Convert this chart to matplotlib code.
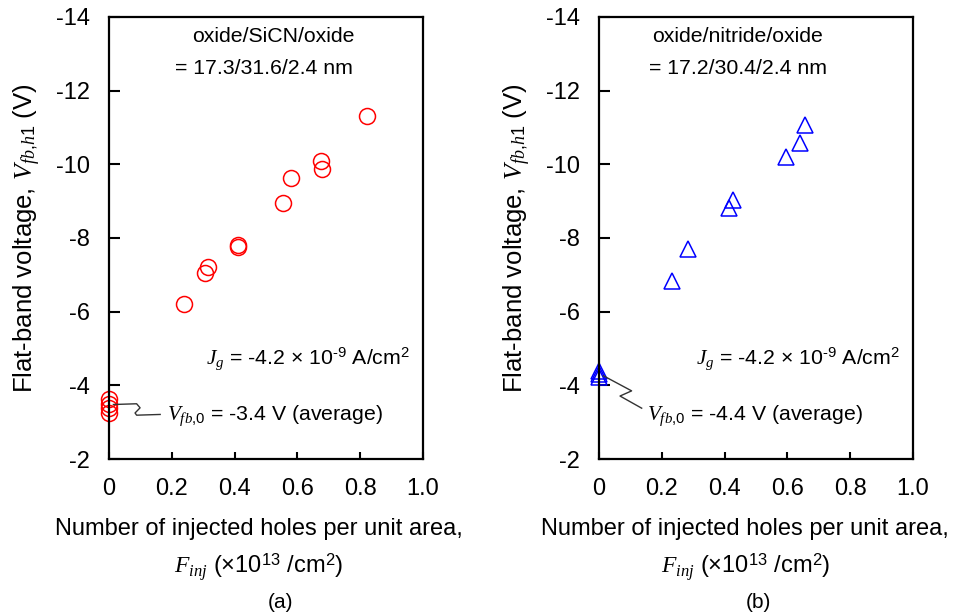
import numpy as np
import matplotlib
matplotlib.use("Agg")
import matplotlib.pyplot as plt

# --------------------- fonts ---------------------
plt.rcParams['font.family'] = ['Liberation Sans', 'DejaVu Sans']
plt.rcParams['mathtext.fontset'] = 'custom'
plt.rcParams['mathtext.rm'] = 'Liberation Sans'
plt.rcParams['mathtext.it'] = 'Liberation Serif:italic'
plt.rcParams['mathtext.bf'] = 'Liberation Sans:bold'
plt.rcParams['axes.unicode_minus'] = False
f_size = 17     # ticks, x label
f_ylab = 18.5   # y label
f_note = 15.3   # annotations inside the axes

# --------------------- data ---------------------
# (a) oxide/SiCN/oxide
x_sicn = [0, 0, 0, 0, 0.238, 0.305, 0.314, 0.411, 0.411, 0.553, 0.579, 0.676, 0.678, 0.822]
v_sicn = [-3.62, -3.50, -3.38, -3.25, -6.22, -7.06, -7.20, -7.75, -7.80, -8.96, -9.62, -10.08, -9.88, -11.32]

# (b) oxide/nitride/oxide
x_nit = [0, 0, 0, 0.232, 0.285, 0.415, 0.428, 0.596, 0.640, 0.657]
v_nit = [-4.40, -4.30, -4.22, -6.84, -7.70, -8.82, -9.04, -10.20, -10.59, -11.08]

x_ticks = [0, 0.2, 0.4, 0.6, 0.8, 1.0]
x_tick_labels = ['0', '0.2', '0.4', '0.6', '0.8', '1.0']
y_ticks = [-14, -12, -10, -8, -6, -4, -2]

# squiggly leader lines from the V_fb,0 points to their labels
lead_a_x = [0.014, 0.088, 0.099, 0.083, 0.088, 0.163]
lead_a_y = [-3.48, -3.50, -3.39, -3.25, -3.19, -3.21]
lead_b_x = [0.014, 0.104, 0.067, 0.136]
lead_b_y = [-4.26, -3.85, -3.71, -3.38]

# --------------------- plot ---------------------
fig = plt.figure(figsize=(9.57, 6.14), dpi=100)
ax_a = fig.add_axes([0.1139, 0.2524, 0.328, 0.72])
ax_b = fig.add_axes([0.6259, 0.2524, 0.328, 0.72])

ax_a.plot(x_sicn, v_sicn, 'o', ms=11.5, mfc='none', mec='#ff0000', mew=1.1, clip_on=False)
ax_b.plot(x_nit, v_nit, '^', ms=11, mfc='none', mec='#0000ff', mew=1.1, clip_on=False)

ax_a.plot(lead_a_x, lead_a_y, color='#333333', lw=1.0)
ax_b.plot(lead_b_x, lead_b_y, color='#333333', lw=1.0)

jg_label = r"$J_g$ = -4.2 × 10$^{\text{-}9}$ A/cm$^2$"

for ax, xl in ((ax_a, 0.476), (ax_b, 0.466)):
    ax.set_xlim(0, 1.0)
    ax.set_ylim(-2, -14)
    ax.set_xticks(x_ticks)
    ax.set_xticklabels(x_tick_labels)
    ax.set_yticks(y_ticks)
    ax.tick_params(direction='in', width=1.5, labelsize=f_size)
    ax.tick_params(axis='x', length=5, pad=14)
    ax.tick_params(axis='y', length=8, pad=14)
    for sp in ax.spines.values():
        sp.set_linewidth(1.6)
    ax.set_xlabel("Number of injected holes per unit area,\n"
                  r"$F_{inj}$ (×10$^{13}$ /cm$^{2}$)", fontsize=f_size,
                  linespacing=1.5)
    ax.xaxis.set_label_coords(xl, -0.133)
    ax.set_ylabel(r"Flat-band voltage, $V_{fb{,}h1}$ (V)", fontsize=f_ylab, labelpad=9)
    ax.text(0.96, -4.73, jg_label, fontsize=f_note, ha='right', va='center')

ax_a.text(0.524, -13.46, "oxide/SiCN/oxide", fontsize=f_note, ha='center', va='center')
ax_a.text(0.494, -12.6, "= 17.3/31.6/2.4 nm", fontsize=f_note, ha='center', va='center')
ax_b.text(0.443, -13.46, "oxide/nitride/oxide", fontsize=f_note, ha='center', va='center')
ax_b.text(0.443, -12.6, "= 17.2/30.4/2.4 nm", fontsize=f_note, ha='center', va='center')

ax_a.text(0.185, -3.18, r"$V_{fb{,}0}$ = -3.4 V (average)", fontsize=f_note, ha='left', va='center')
ax_b.text(0.152, -3.18, r"$V_{fb{,}0}$ = -4.4 V (average)", fontsize=f_note, ha='left', va='center')

fig.text(0.2935, 0.0195, "(a)", fontsize=15, ha='center', va='center')
fig.text(0.792, 0.0195, "(b)", fontsize=15, ha='center', va='center')

fig.savefig("out.png", dpi=100)
